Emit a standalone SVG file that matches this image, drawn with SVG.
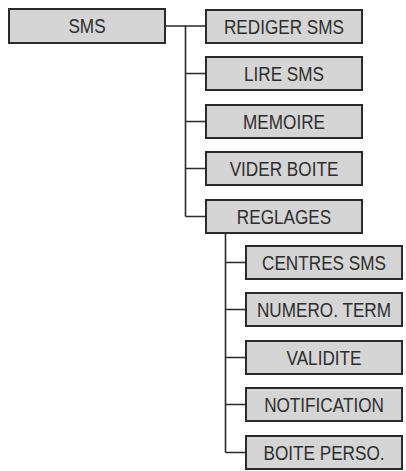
<svg xmlns="http://www.w3.org/2000/svg" width="406" height="471" viewBox="0 0 406 471">
<style>
.box{fill:#d5d5d5;stroke:#2a2a2a;stroke-width:2}
.lbl{font-family:"Liberation Sans",Arial,sans-serif;font-size:19.5px;fill:#2e2e2e;text-anchor:middle}
.ln{fill:none;stroke:#2a2a2a;stroke-width:1.6}
</style>
<rect width="406" height="471" fill="#ffffff"/>
<g id="connectors">
<path class="ln" d="M165 26H185.5M185.5 26V216.5M185.5 26H206M185.5 73.5H206M185.5 121.5H206M185.5 168.5H206M185.5 216.5H206"/>
<path class="ln" d="M225.5 233V452.5M225.5 262.5H246M225.5 309.5H246M225.5 357.5H246M225.5 404.5H246M225.5 452.5H246"/>
</g>
<g id="sms"><rect class="box" x="9" y="9" width="156" height="34"/><text class="lbl" transform="translate(87,33) scale(0.88,1)">SMS</text></g>
<g id="rediger"><rect class="box" x="206" y="10" width="156" height="33"/><text class="lbl" transform="translate(284,33.5) scale(0.88,1)">REDIGER SMS</text></g>
<g id="lire"><rect class="box" x="206" y="57" width="156" height="33"/><text class="lbl" transform="translate(284,80.5) scale(0.88,1)">LIRE SMS</text></g>
<g id="memoire"><rect class="box" x="206" y="105" width="156" height="33"/><text class="lbl" transform="translate(284,128.5) scale(0.88,1)">MEMOIRE</text></g>
<g id="vider"><rect class="box" x="206" y="152" width="156" height="33"/><text class="lbl" transform="translate(284,175.5) scale(0.88,1)">VIDER BOITE</text></g>
<g id="reglages"><rect class="box" x="206" y="200" width="156" height="33"/><text class="lbl" transform="translate(284,223.5) scale(0.88,1)">REGLAGES</text></g>
<g id="centres"><rect class="box" x="246" y="246" width="156" height="33"/><text class="lbl" transform="translate(324,269.5) scale(0.88,1)">CENTRES SMS</text></g>
<g id="numero"><rect class="box" x="246" y="293" width="156" height="33"/><text class="lbl" transform="translate(324,316.5) scale(0.88,1)">NUMERO. TERM</text></g>
<g id="validite"><rect class="box" x="246" y="341" width="156" height="33"/><text class="lbl" transform="translate(324,364.5) scale(0.88,1)">VALIDITE</text></g>
<g id="notification"><rect class="box" x="246" y="388" width="156" height="33"/><text class="lbl" transform="translate(324,411.5) scale(0.88,1)">NOTIFICATION</text></g>
<g id="boite"><rect class="box" x="246" y="436" width="156" height="33"/><text class="lbl" transform="translate(324,459.5) scale(0.88,1)">BOITE PERSO.</text></g>
</svg>
